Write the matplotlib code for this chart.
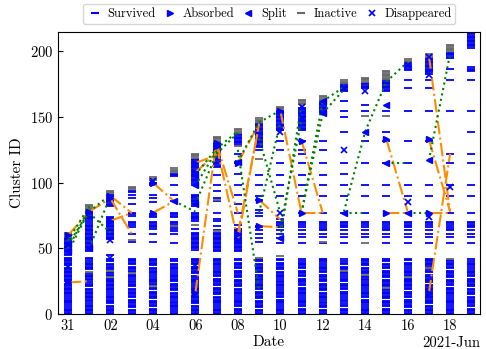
import pandas as pd
import matplotlib
matplotlib.use("Agg")
import matplotlib.pyplot as plt
import matplotlib.dates as mdates
import matplotlib.ticker as mticker
from matplotlib.lines import Line2D

plt.rcParams["font.family"] = "serif"
plt.rcParams["font.serif"] = ["cmr10"]
plt.rcParams["mathtext.fontset"] = "cm"
plt.rcParams["axes.formatter.use_mathtext"] = True
plt.rcParams["axes.unicode_minus"] = False

# one entry per day, 2021-05-31 .. 2021-06-19 (cluster ids as "a-b" ranges)
dates = pd.date_range("2021-05-31", "2021-06-19", freq="D")

survived = [
    "0-5 7-12 14-23 25-35 37-43 45-58",
    "0-8 10-19 21-24 26-31 34-40 42-43 48-69 71-78",
    "0-6 8-15 17-27 29-32 34-38 40-42 45 57-74 82-91",
    "0-3 5-11 13-19 21-25 27-30 32-36 38-42 55 61 66 68-70 75-77 84 88 91 93-94",
    "0-4 6-10 12-17 19-20 22-28 30-35 37-42 55 61 65-70 74-76 85 88 91 98-100",
    "0-2 4-9 11-16 18-23 25-31 33-38 40-42 54 61 63 65-66 68-70 74-77 86 91 98 105-107",
    "0-6 8-14 16-21 23-29 31-36 38-42 49-62 65 71-77 82 84-91 98 100-118",
    "0-5 7-13 15-20 22-27 29-34 36-42 48-62 64 67 71-72 77 86 88 94 98 106 112-130",
    "0-4 6-12 14-19 21-26 28-33 35-39 41-42 48-65 68 77 84 91 98 107 115-116 122 129-137",
    "0-3 5-10 12-17 19-24 26-30 32-38 40-42 55 58 61 64 66-67 75 77 79 87 90 98 106 125 127-145",
    "0-5 7-11 13-18 20-25 27-32 34-39 41-42 54 58 61 64 66-70 72 90 98 106 115 125 132 140-155",
    "0-4 6-12 14-20 22-27 29-33 35-40 42 54 59 61 64 66 68-70 77 90 98 106 115 122 125 132 140-157",
    "0-3 5-9 11-16 18-23 25-30 32-37 39-42 54 59 61 64-66 68-70 77 90 98 106 115 125 132 152-162",
    "0-4 6-8 10-12 14-17 19-23 25-28 30-32 34-36 38-40 42 54 59 61 64 66-70 77 90 98 107 115 139 150 155 162 170-175",
    "0-5 7-11 13-18 20-24 26-29 31-35 37-42 59 61 64 66 68-70 77 90 98 115 132 155 159 172-176",
    "0-4 6-10 12-19 21-26 28-33 35-38 40-42 54 59 61 64-66 68-70 90 98 115 132 139 155 170-178",
    "0-3 5-11 13-17 19-27 29-34 36-39 41-42 54 59 61 64 66-70 77 90 98 115 132 155 172 178 186-191",
    "0-6 8-15 17-22 24-30 32-34 36-42 54 59 61 64 66 68-70 90 98 132 155 172 178 183-195",
    "0-5 7-12 14-20 22-26 28-33 35-41 54 59 61 64-66 68-70 77 90 98 115 122 155 178 187 195-199",
    "0-4 6-13 15-19 21-27 29-34 36-40 42 54 59 61 64 66-70 77 90 98 115 122 139 155 178 185-188 203-215",
]

inactive = [
    "59-62",
    "79-83 32",
    "92-94 28 33",
    "95-97 31 56",
    "102-104 21",
    "108-111 67",
    "119-122 68 15",
    "131-135 63 87",
    "138-141 128",
    "146-149 43 118",
    "156-158 44",
    "160-163",
    "163-166 55",
    "176-178 33",
    "177-180 151 54 30",
    "179-185 151 20",
    "192-194 28",
    "196-198 35",
    "200-205 42",
    "",
]

# (day index, cluster id)
absorbed = [(0, 60), (0, 24), (1, 78), (2, 90), (2, 71), (2, 88), (4, 100), (4, 77),
            (6, 115), (6, 108), (6, 16), (7, 130), (7, 128), (8, 56), (8, 61), (8, 115),
            (9, 87), (9, 67), (10, 155), (11, 77), (11, 132), (15, 133), (15, 77),
            (17, 133), (17, 16), (17, 77)]
split = [(0, 48), (0, 53), (1, 50), (5, 86), (6, 106), (6, 98), (6, 84), (8, 116),
         (10, 58), (12, 162), (12, 153), (13, 77), (14, 139), (15, 159), (15, 115),
         (16, 77), (17, 117)]
disappeared = [(0, 36), (2, 56), (2, 43), (4, 101), (6, 37), (10, 139), (10, 77),
               (11, 158), (11, 149), (13, 125), (13, 172), (14, 170), (16, 190),
               (16, 85), (17, 196), (17, 182), (17, 74), (18, 97)]

# links: (day from, id from, day to, id to)
absorb_links = [(0, 60, 1, 78), (0, 24, 1, 25), (1, 78, 2, 88), (2, 90, 3, 77),
                (2, 71, 3, 77), (2, 88, 3, 61), (4, 100, 5, 86), (4, 77, 5, 86),
                (6, 115, 7, 121), (6, 108, 7, 122), (6, 16, 7, 132), (7, 130, 8, 77),
                (7, 128, 8, 56), (8, 56, 9, 145), (8, 61, 9, 144), (8, 115, 9, 145),
                (9, 87, 10, 72), (9, 67, 10, 66), (10, 155, 11, 77), (11, 77, 12, 77),
                (11, 132, 12, 77), (15, 133, 16, 78), (15, 77, 16, 77),
                (17, 197, 18, 78), (17, 133, 18, 78), (17, 16, 18, 122), (17, 77, 18, 77)]
split_links = [(0, 47, 1, 79), (0, 50, 1, 80), (0, 53, 1, 78), (0, 56, 1, 82),
               (1, 50, 2, 90), (1, 78, 2, 91), (1, 77, 2, 62), (5, 86, 6, 78),
               (6, 84, 7, 122), (6, 98, 7, 124), (6, 106, 7, 126), (7, 126, 8, 139),
               (7, 122, 8, 138), (8, 125, 9, 18), (8, 116, 9, 146), (9, 146, 10, 155),
               (9, 134, 10, 77), (9, 77, 10, 146), (10, 58, 11, 160), (10, 66, 11, 148),
               (11, 77, 12, 153), (11, 77, 12, 162), (12, 153, 13, 171), (12, 162, 13, 173),
               (13, 77, 14, 77), (13, 78, 14, 139), (14, 139, 15, 177), (15, 177, 16, 192),
               (15, 115, 16, 115), (16, 77, 17, 77), (17, 117, 18, 198)]


def parse_ids(spec):
    out = []
    for tok in spec.split():
        if "-" in tok:
            a, b = tok.split("-")
            out.extend(range(int(a), int(b) + 1))
        else:
            out.append(int(tok))
    return out


fig = plt.figure(figsize=(4.86, 3.49), dpi=100)
ax = fig.add_axes([0.119, 0.1003, 0.869, 0.8087])

for i, d in enumerate(dates):
    ids = parse_ids(survived[i])
    ax.plot([d] * len(ids), ids, ls="none", marker="_", color="blue", ms=5.2, mew=1.3, zorder=2)
    ids = parse_ids(inactive[i])
    if ids:
        ax.plot([d] * len(ids), ids, ls="none", marker="_", color="dimgray", ms=5.2, mew=1.3, zorder=2)

for d0, v0, d1, v1 in absorb_links:
    ax.plot([dates[d0], dates[d1]], [v0, v1], ls="-.", color="darkorange", lw=1.5, zorder=3)
for d0, v0, d1, v1 in split_links:
    ax.plot([dates[d0], dates[d1]], [v0, v1], ls=":", color="green", lw=1.5, zorder=3)

ax.plot([dates[d] for d, v in absorbed], [v for d, v in absorbed], ls="none",
        marker=">", color="blue", ms=5, zorder=4)
ax.plot([dates[d] for d, v in split], [v for d, v in split], ls="none",
        marker="<", color="blue", ms=5, zorder=4)
ax.plot([dates[d] for d, v in disappeared], [v for d, v in disappeared], ls="none",
        marker="x", color="blue", ms=5, mew=1.2, zorder=4)

ax.set_xlim(dates[0] - pd.Timedelta(hours=11.5), dates[-1] + pd.Timedelta(hours=10))
ax.set_ylim(0, 215)
ax.set_yticks([0, 50, 100, 150, 200])

loc = mticker.FixedLocator(mdates.date2num(dates[::2]))
ax.xaxis.set_major_locator(loc)
ax.xaxis.set_major_formatter(mdates.ConciseDateFormatter(loc))
ax.tick_params(direction="in", labelsize=10.5)
ax.xaxis.get_offset_text().set_fontsize(10.5)

ax.set_xlabel("Date", fontsize=11, labelpad=2)
ax.set_ylabel("Cluster ID", fontsize=11)

handles = [
    Line2D([], [], ls="none", marker="_", color="blue", ms=6, mew=1.5),
    Line2D([], [], ls="none", marker=">", color="blue", ms=5),
    Line2D([], [], ls="none", marker="<", color="blue", ms=5),
    Line2D([], [], ls="none", marker="_", color="dimgray", ms=6, mew=1.5),
    Line2D([], [], ls="none", marker="x", color="blue", ms=5, mew=1.2),
]
ax.legend(handles, ["Survived", "Absorbed", "Split", "Inactive", "Disappeared"],
          loc="lower center", bbox_to_anchor=(0.5, 1.028), ncol=5, fontsize=9,
          handletextpad=0.35, columnspacing=0.5, handlelength=1.3, borderpad=0.3,
          borderaxespad=0.0, frameon=True)

fig.savefig("out.png", dpi=100)
